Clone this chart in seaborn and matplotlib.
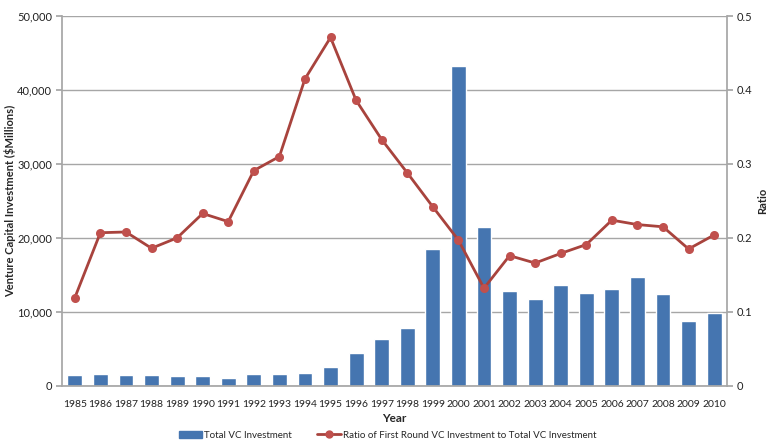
import matplotlib
matplotlib.use("Agg")
import matplotlib.pyplot as plt
import seaborn as sns
import pandas as pd
from matplotlib.patches import Patch
from matplotlib.lines import Line2D
from matplotlib.ticker import FuncFormatter

years = [str(y) for y in range(1985, 2011)]
total_vc = [1450, 1580, 1450, 1450, 1360, 1260, 990, 1580, 1580, 1670, 2520, 4500,
            6350, 7880, 18500, 43300, 21500, 12800, 11800, 13650, 12600, 13100,
            14700, 12350, 8740, 9820]
ratio = [0.119, 0.207, 0.208, 0.186, 0.200, 0.233, 0.222, 0.291, 0.310, 0.415,
         0.471, 0.386, 0.333, 0.288, 0.242, 0.197, 0.132, 0.176, 0.166, 0.179,
         0.191, 0.224, 0.218, 0.215, 0.185, 0.204]

df = pd.DataFrame({"Year": years, "Total": total_vc, "Ratio": ratio})

sns.set_theme(style="white")
plt.rcParams["font.family"] = ["Lato", "DejaVu Sans"]

bar_color = "#4575b0"
line_color = "#a8433d"
marker_color = "#c0504d"
grid_color = "#a6a6a6"

fig = plt.figure(figsize=(7.75, 4.45), dpi=100)
ax = fig.add_axes([0.080, 0.133, 0.858, 0.831])

sns.barplot(data=df, x="Year", y="Total", color=bar_color, width=0.58,
            saturation=1, ax=ax, zorder=2)
ax.set_ylim(0, 50000)
ax.set_yticks(range(0, 50001, 10000))
ax.yaxis.set_major_formatter(FuncFormatter(lambda v, p: f"{int(v):,}"))
ax.grid(axis="y", color=grid_color, linewidth=1, zorder=0)
ax.set_axisbelow(True)
ax.set_xlim(-0.5, len(years) - 0.5)

ax2 = ax.twinx()
sns.pointplot(data=df, x="Year", y="Ratio", color=line_color, markers="o",
              linestyles="-", ax=ax2, markersize=5, linewidth=2)
for coll in ax2.lines:
    coll.set_markerfacecolor(marker_color)
    coll.set_markeredgecolor(marker_color)
ax2.set_ylim(0, 0.5)
ax2.set_yticks([0, 0.1, 0.2, 0.3, 0.4, 0.5])
ax2.set_yticklabels(["0", "0.1", "0.2", "0.3", "0.4", "0.5"])
ax2.set_xlim(-0.5, len(years) - 0.5)

for a in (ax, ax2):
    for s in a.spines.values():
        s.set_visible(False)
ax.spines["left"].set_visible(True)
ax.spines["left"].set_color(grid_color)
ax.spines["bottom"].set_visible(True)
ax.spines["bottom"].set_color(grid_color)
ax2.spines["right"].set_visible(True)
ax2.spines["right"].set_color(grid_color)

ax.tick_params(axis="y", which="major", left=True, length=4, color=grid_color,
               labelsize=8, labelcolor="#222222", pad=3)
ax.tick_params(axis="x", bottom=False, labelsize=7.5, labelcolor="#222222", pad=4)
ax2.tick_params(axis="y", right=True, length=4, color=grid_color, labelsize=8,
                labelcolor="#222222", pad=3)

ax.set_xlabel("Year", fontsize=8.5, fontweight="bold", labelpad=3)
ax.set_ylabel("Venture Capital Investment ($Millions)", fontsize=8,
              fontweight="bold")
ax.yaxis.set_label_coords(-0.069, 0.5)
ax2.set_ylabel("Ratio", fontsize=8, fontweight="bold")
ax2.yaxis.set_label_coords(1.045, 0.5)

handles = [Patch(facecolor=bar_color, edgecolor=bar_color),
           Line2D([0], [0], color=line_color, linewidth=2, marker="o",
                  markersize=5, markerfacecolor=marker_color,
                  markeredgecolor=marker_color)]
labels = ["Total VC Investment",
          "Ratio of First Round VC Investment to Total VC Investment"]
fig.legend(handles, labels, loc="center", bbox_to_anchor=(0.5, 0.022), ncol=2,
           frameon=False, fontsize=7, handlelength=2.4, handleheight=0.8,
           columnspacing=2.6, handletextpad=0.2)

fig.savefig("out.png", dpi=100)
